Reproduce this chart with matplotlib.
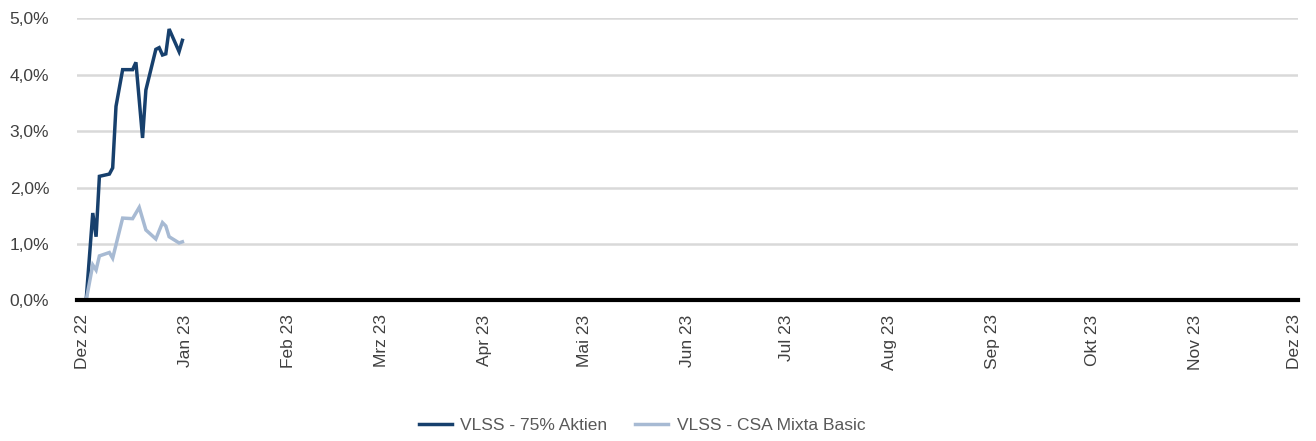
import pandas as pd
import matplotlib.pyplot as plt
from matplotlib.ticker import FuncFormatter

# Series values in percent
aktien_dates = ["2022-12-02", "2022-12-04", "2022-12-05", "2022-12-06", "2022-12-09",
                "2022-12-10", "2022-12-11", "2022-12-13", "2022-12-16", "2022-12-17",
                "2022-12-19", "2022-12-20", "2022-12-23", "2022-12-24", "2022-12-25",
                "2022-12-26", "2022-12-27", "2022-12-30", "2022-12-31"]
aktien_values = [0.00, 1.55, 1.13, 2.20, 2.24, 2.35, 3.44, 4.09, 4.09, 4.22,
                 2.88, 3.73, 4.45, 4.48, 4.35, 4.37, 4.81, 4.41, 4.61]

mixta_dates = ["2022-12-02", "2022-12-04", "2022-12-05", "2022-12-06", "2022-12-09",
               "2022-12-10", "2022-12-13", "2022-12-16", "2022-12-18", "2022-12-20",
               "2022-12-23", "2022-12-25", "2022-12-26", "2022-12-27", "2022-12-30",
               "2022-12-31"]
mixta_values = [0.00, 0.63, 0.54, 0.79, 0.85, 0.75, 1.46, 1.45, 1.65, 1.25,
                1.09, 1.38, 1.32, 1.13, 1.02, 1.04]

series_labels = ["VLSS - 75% Aktien", "VLSS - CSA Mixta Basic"]
month_names = ["Jan", "Feb", "Mrz", "Apr", "Mai", "Jun",
               "Jul", "Aug", "Sep", "Okt", "Nov", "Dez"]
y_ticks = [0, 1, 2, 3, 4, 5]

plt.rcParams['font.family'] = ['Liberation Sans', 'DejaVu Sans']

fig = plt.figure(figsize=(13.16, 4.41), dpi=100)
ax = fig.add_axes([0.0585, 0.3186, 0.9278, 0.6399])

ax.plot(pd.to_datetime(aktien_dates), aktien_values, color="#17406d", lw=2.5,
        label=series_labels[0], solid_joinstyle="miter")
ax.plot(pd.to_datetime(mixta_dates), mixta_values, color="#a7bad3", lw=2.5,
        label=series_labels[1], solid_joinstyle="miter")

ax.set_xlim(pd.Timestamp("2022-11-29 06:00"), pd.Timestamp("2023-12-02"))
ax.set_ylim(0, 5)

ticks = pd.date_range("2022-12-01", "2023-12-01", freq="MS")
ax.set_xticks(ticks)
ax.set_xticklabels([f"{month_names[d.month - 1]} {d.strftime('%y')}" for d in ticks],
                   rotation=90, ha="center", va="top")
ax.set_yticks(y_ticks)
ax.yaxis.set_major_formatter(FuncFormatter(lambda v, p: f"{v:.1f}%".replace(".", ",")))

ax.tick_params(length=0, labelsize=12.5, labelcolor="#404040")
ax.tick_params(axis="x", pad=10)
ax.tick_params(axis="y", pad=20)

ax.grid(axis="y", color="#d9d9d9", lw=1.8)
ax.set_axisbelow(True)
for s in ["top", "right", "left"]:
    ax.spines[s].set_visible(False)
ax.spines["bottom"].set_color("black")
ax.spines["bottom"].set_linewidth(3)
ax.spines["bottom"].set_zorder(5)

leg = fig.legend(loc="center", bbox_to_anchor=(0.488, 0.036), ncol=2, frameon=False,
                 fontsize=12.5, handlelength=1.9, handletextpad=0.5, columnspacing=1.6)
for t in leg.get_texts():
    t.set_color("#595959")

fig.savefig("out.png", dpi=100)
